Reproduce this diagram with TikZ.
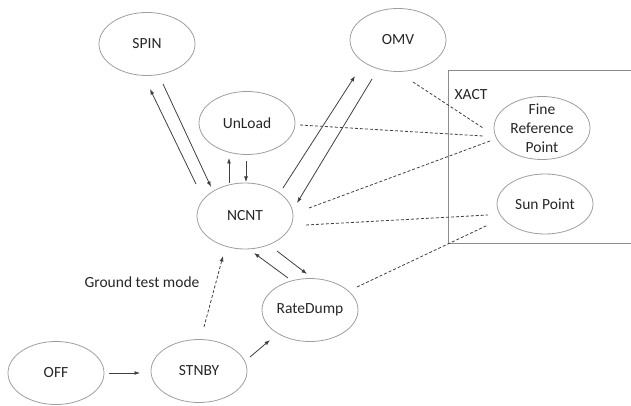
\documentclass[tikz,border=0pt]{standalone}
\usepackage{fontspec}
\setmainfont{Carlito}
\usetikzlibrary{shapes.geometric,arrows.meta,calc}
\begin{document}
\begin{tikzpicture}[x=1pt,y=-1pt,
  every node/.style={font=\fontsize{15.5}{19}\selectfont, text=black!85},
  st/.style={ellipse, draw=black!38, line width=0.8pt, minimum width=96pt, minimum height=63pt, inner sep=0pt},
  arr/.style={draw=black!75, line width=0.8pt, -{Latex[length=5.5pt,width=4pt]}},
  dsh/.style={draw=black!75, line width=0.8pt, dash pattern=on 3pt off 2pt}]
\useasboundingbox (0,0) rectangle (631,406);

% XACT group frame (open to the right edge)
\draw[black!45, line width=0.9pt] (632,70) -- (448,70) -- (448,243) -- (632,243);
\node (xact) at (471,95) {XACT};

% states
\node[st, label=center:SPIN] (spin) at (147,44) {};
\node[st, label=center:UnLoad] (unload) at (247,123) {};
\node[st, label=center:OMV] (omv) at (398,40) {};
\node[st, minimum height=66pt, label=center:NCNT] (ncnt) at (245,216) {};
\node[st, label=center:RateDump] (rate) at (310,310) {};
\node[st, label=center:OFF] (off) at (56,373) {};
\node[st, label=center:STNBY] (stnby) at (199,371) {};
\node[st, label={[align=center]center:{Fine\\Reference\\Point}}] (fine) at (542,128) {};
\node[st, minimum height=60pt, label=center:Sun Point] (sun) at (545,204) {};

\node (gtm) at (142,282) {Ground test mode};

% transitions
\draw[arr] ($(ncnt)+(-49,-32)$) -- ($(spin)+(3,45)$);
\draw[arr] ($(spin)+(16,40)$) -- ($(ncnt)+(-34,-29)$);
\draw[arr] ($(ncnt)+(-16,-33)$) -- ($(unload)+(-18,35)$);
\draw[arr] ($(unload)+(-1,38)$) -- ($(ncnt)+(1,-34)$);
\draw[arr] ($(ncnt)+(38,-28)$) -- ($(omv)+(-43,36)$);
\draw[arr] ($(omv)+(-26,39)$) -- ($(ncnt)+(52,-13)$);
\draw[arr] ($(ncnt)+(32,35)$) -- ($(rate)+(-3,-36)$);
\draw[arr] ($(rate)+(-22,-32)$) -- ($(ncnt)+(9,37)$);
\draw[arr] ($(off)+(53,0)$) -- ($(stnby)+(-59,2)$);
\draw[arr] ($(stnby)+(51,-14)$) -- ($(rate)+(-40,30)$);
\draw[arr, dash pattern=on 3pt off 2pt] ($(stnby)+(5,-44)$) -- ($(ncnt)+(-22,40)$);

% links into the XACT modes
\draw[dsh] ($(unload)+(53,2)$) -- ($(fine)+(-59,8)$);
\draw[dsh] ($(omv)+(15,42)$) -- ($(fine)+(-59,0)$);
\draw[dsh] ($(ncnt)+(64,-8)$) -- ($(fine)+(-52,13)$);
\draw[dsh] ($(ncnt)+(61,9)$) -- ($(sun)+(-57,11)$);
\draw[dsh] ($(rate)+(47,-23)$) -- ($(sun)+(-57,21)$);
\end{tikzpicture}
\end{document}
